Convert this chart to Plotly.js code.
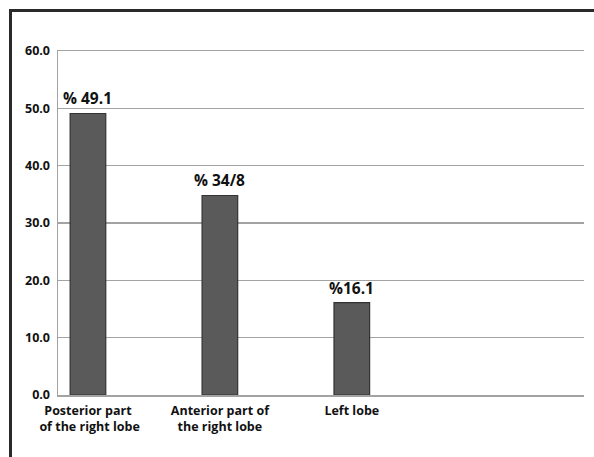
<!DOCTYPE html>
<html>
<head>
<meta charset="utf-8">
<script src="https://cdn.plot.ly/plotly-3.0.1.min.js"></script>
<style>
  html, body { margin: 0; padding: 0; background: #fff; }
  #wrap { position: relative; width: 594px; height: 457px; overflow: hidden; }
  #chart { position: absolute; left: 0; top: 0; width: 594px; height: 457px; }
  #frame { position: absolute; left: 9px; top: 9px; right: -4px; bottom: -4px;
           border-top: 3px solid #2a2a2a; border-left: 3px solid #2a2a2a; pointer-events: none; }
</style>
</head>
<body>
<div id="wrap">
  <div id="chart"></div>
  <div id="frame"></div>
</div>
<script>
const categories = ["Posterior part<br> of the right lobe", "Anterior part of<br>the right lobe", "Left lobe"];
const values = [49.1, 34.8, 16.1];
const valueLabels = ["% 49.1", "% 34/8", "%16.1"];
const tickVals = [0, 10, 20, 30, 40, 50, 60];
const tickText = ["0.0", "10.0", "20.0", "30.0", "40.0", "50.0", "60.0"];

const font = "'Open Sans', Lato, 'DejaVu Sans', sans-serif";

const annotations = values.map((v, i) => ({
  x: i, y: v, xref: 'x', yref: 'y',
  text: '<b>' + valueLabels[i] + '</b>',
  showarrow: false, yanchor: 'bottom', yshift: 2,
  font: { family: font, size: 15.5, color: '#111' }
}));

const trace = {
  type: 'bar',
  x: [0, 1, 2],
  y: values,
  width: 0.27,
  marker: { color: '#5a5a5a', line: { color: '#333333', width: 1.2 } },
  hoverinfo: 'none'
};

const layout = {
  width: 594, height: 457,
  margin: { l: 58, r: 10, t: 51, b: 62 },
  paper_bgcolor: '#fff', plot_bgcolor: '#fff',
  showlegend: false,
  xaxis: {
    range: [-0.227, 3.76],
    tickmode: 'array',
    tickvals: [0, 1, 2],
    ticktext: categories.map(c => '<b>' + c + '</b>'),
    tickfont: { family: font, size: 12.5, color: '#111' },
    ticklabelstandoff: 3,
    showgrid: false, zeroline: false,
    showline: true, mirror: true, linecolor: '#a3a3a3', linewidth: 1.5,
    ticks: '',
    fixedrange: true
  },
  yaxis: {
    range: [0, 60],
    tickmode: 'array',
    tickvals: tickVals,
    ticktext: tickText.map(t => '<b>' + t + '</b>'),
    tickfont: { family: font, size: 12.5, color: '#111' },
    showgrid: true, gridcolor: '#a3a3a3', gridwidth: 1.5,
    zeroline: false,
    showline: true, linecolor: '#a3a3a3', linewidth: 1.5,
    ticks: '',
    ticklabelstandoff: 4,
    fixedrange: true
  },
  annotations: annotations
};

Plotly.newPlot('chart', [trace], layout, { displayModeBar: false, staticPlot: true });
</script>
</body>
</html>
